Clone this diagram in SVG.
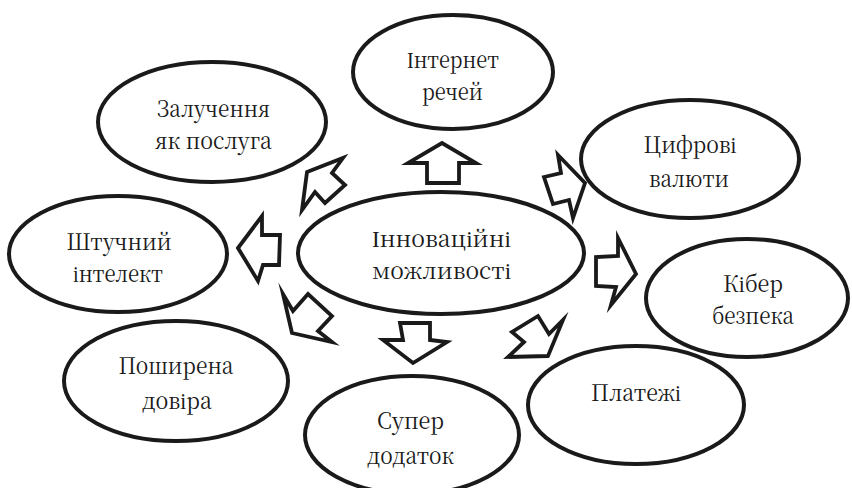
<svg xmlns="http://www.w3.org/2000/svg" width="852" height="488" viewBox="0 0 852 488">
<style>
.node ellipse{fill:#fff;stroke:#1a1a1a;stroke-width:4}
.node text{font-family:"Noto Serif CJK SC",serif;font-size:23px;fill:#1a1a1a;text-anchor:middle}
.arr{fill:#fff;stroke:#1a1a1a;stroke-width:3.8;stroke-linejoin:miter;stroke-miterlimit:10}
</style>
<rect width="852" height="488" fill="#fff"/>
<g id="n-center" class="node"><ellipse cx="441" cy="253" rx="143" ry="61"/><text x="441.5" y="247" textLength="139" lengthAdjust="spacingAndGlyphs">Інноваційні</text><text x="441.5" y="279" textLength="139" lengthAdjust="spacingAndGlyphs">можливості</text></g>
<g id="n-iot" class="node"><ellipse cx="453" cy="72" rx="100" ry="57"/><text x="453" y="68" textLength="92" lengthAdjust="spacingAndGlyphs">Інтернет</text><text x="452.5" y="100" textLength="61" lengthAdjust="spacingAndGlyphs">речей</text></g>
<g id="n-zaluch" class="node"><ellipse cx="212" cy="122" rx="114" ry="60"/><text x="213.5" y="117" textLength="113" lengthAdjust="spacingAndGlyphs">Залучення</text><text x="213.5" y="149" textLength="117" lengthAdjust="spacingAndGlyphs">як послуга</text></g>
<g id="n-crypto" class="node"><ellipse cx="690" cy="159" rx="109" ry="59"/><text x="690" y="153" textLength="93" lengthAdjust="spacingAndGlyphs">Цифрові</text><text x="689" y="187" textLength="80" lengthAdjust="spacingAndGlyphs">валюти</text></g>
<g id="n-ai" class="node"><ellipse cx="118" cy="254" rx="109" ry="58"/><text x="119" y="250" textLength="105" lengthAdjust="spacingAndGlyphs">Штучний</text><text x="118" y="282" textLength="90" lengthAdjust="spacingAndGlyphs">інтелект</text></g>
<g id="n-cyber" class="node"><ellipse cx="747" cy="298" rx="101" ry="59"/><text x="753" y="292" textLength="60" lengthAdjust="spacingAndGlyphs">Кібер</text><text x="753" y="324" textLength="82" lengthAdjust="spacingAndGlyphs">безпека</text></g>
<g id="n-pay" class="node"><ellipse cx="636" cy="405" rx="108" ry="59"/><text x="636" y="401" textLength="90" lengthAdjust="spacingAndGlyphs">Платежі</text></g>
<g id="n-trust" class="node"><ellipse cx="176" cy="381" rx="112" ry="60"/><text x="176" y="374" textLength="115" lengthAdjust="spacingAndGlyphs">Поширена</text><text x="177" y="409" textLength="70" lengthAdjust="spacingAndGlyphs">довіра</text></g>
<g id="n-super" class="node"><ellipse cx="412" cy="435" rx="107" ry="59"/><text x="410.5" y="429" textLength="67" lengthAdjust="spacingAndGlyphs">Супер</text><text x="410.5" y="464" textLength="87" lengthAdjust="spacingAndGlyphs">додаток</text></g>
<g id="connectors">
<polygon class="arr" points="427,183 427,163 408,163 442,143 476,163 459,163 459,183"/>
<polygon class="arr" points="238,248 262,216 262,235 280,235 279,265 263,265 258,281"/>
<polygon class="arr" points="307,172 343,158 332,173 345,185 325,203 315,192 302,210"/>
<polygon class="arr" points="558,155 585,183 573,218 569,200 553,204 544,177 561,173"/>
<polygon class="arr" points="618,238 636,274 611,305 616,287 596,286 596,257 618,256"/>
<polygon class="arr" points="292,333 283,294 293,311 308,294 332,316 318,331 332,342"/>
<polygon class="arr" points="400,323 430,323 430,340 447,342 413,363 383,340 403,340"/>
<polygon class="arr" points="548,356 508,357 524,342 512,332 538,316 549,334 563,320"/>
</g>
</svg>
